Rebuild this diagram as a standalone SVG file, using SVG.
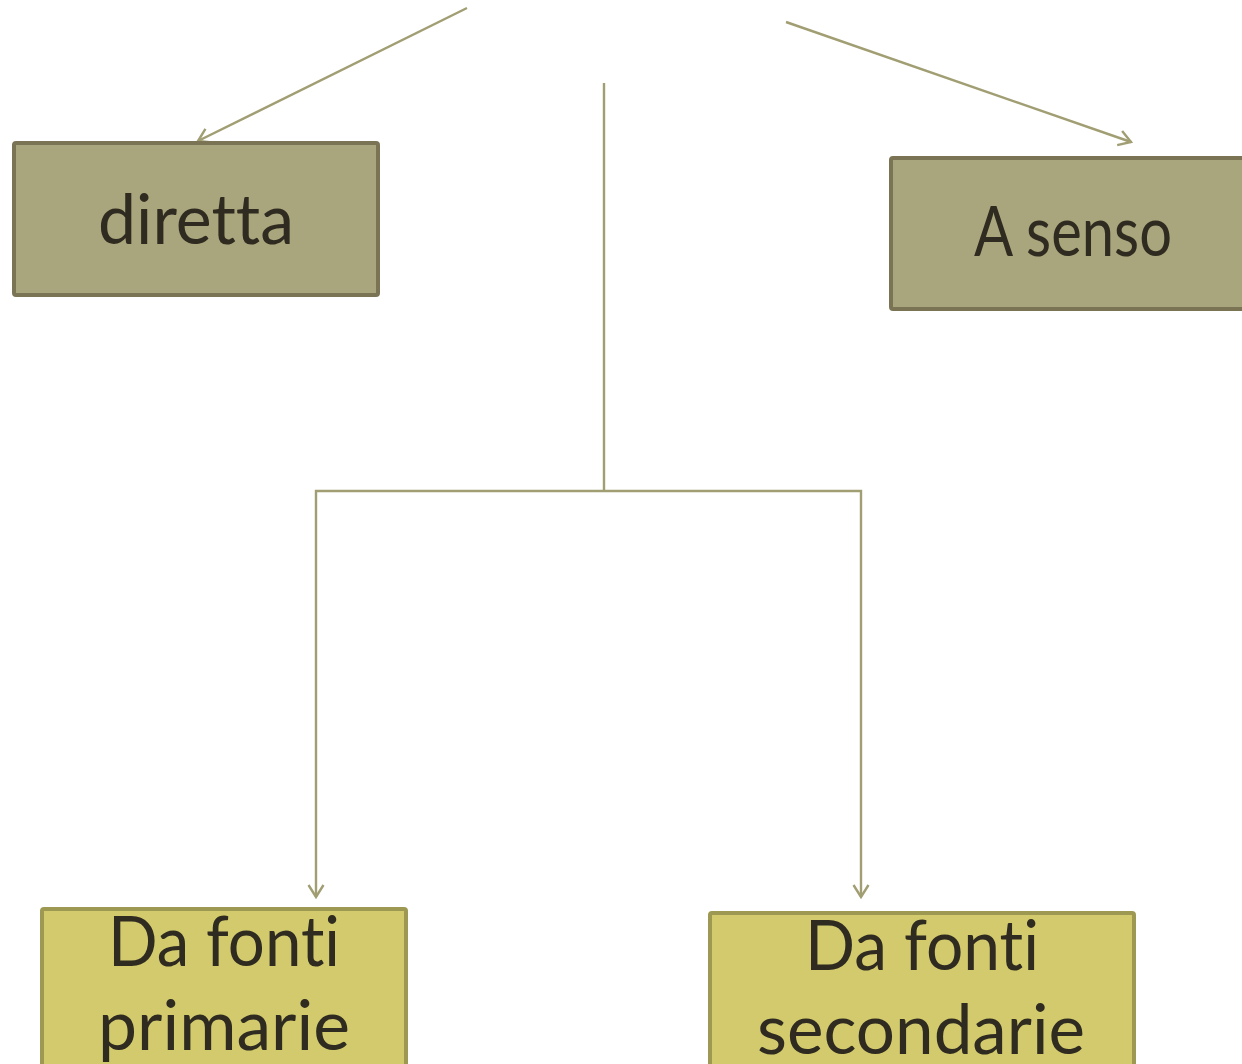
<svg xmlns="http://www.w3.org/2000/svg" width="1242" height="1064" viewBox="0 0 1242 1064">
<style>
.conn{fill:none;stroke:#a09e72;stroke-width:2.4}
.t{font-family:Lato,"Open Sans",sans-serif;fill:#2f2b20;text-anchor:middle;font-variant-ligatures:none;font-feature-settings:"liga" 0,"clig" 0}
.n1{fill:#a9a57c;stroke:#7a7455;stroke-width:4}
.n2{fill:#d2ca6c;stroke:#9d9852;stroke-width:4}
</style>
<defs>
<marker id="ah" viewBox="-14 -9 16 18" refX="0" refY="0" markerWidth="16" markerHeight="18" markerUnits="userSpaceOnUse" orient="auto">
<path d="M-12,-7.5 L0,0 L-12,7.5" fill="none" stroke="#a09e72" stroke-width="2.4"/>
</marker>
</defs>
<rect width="1242" height="1064" fill="#ffffff"/>
<g id="connectors">
<line class="conn" x1="467" y1="8" x2="198" y2="141" marker-end="url(#ah)"/>
<line class="conn" x1="786" y1="22" x2="1131" y2="142" marker-end="url(#ah)"/>
<polyline class="conn" points="604,83 604,491"/>
<polyline class="conn" points="604,491 316,491 316,897" marker-end="url(#ah)"/>
<polyline class="conn" points="604,491 861,491 861,897" marker-end="url(#ah)"/>
</g>
<g id="node-diretta">
<rect class="n1" x="14" y="143" width="364" height="152" rx="2"/>
<text class="t" x="196" y="244" font-size="70" textLength="196" lengthAdjust="spacingAndGlyphs">diretta</text>
</g>
<g id="node-asenso">
<rect class="n1" x="891" y="158" width="360" height="151" rx="2"/>
<text class="t" x="1073" y="256" font-size="70" textLength="198" lengthAdjust="spacingAndGlyphs">A senso</text>
</g>
<g id="node-primarie">
<rect class="n2" x="42" y="909" width="364" height="160" rx="2"/>
<text class="t" x="224" y="966" font-size="70" textLength="232" lengthAdjust="spacingAndGlyphs">Da fonti</text>
<text class="t" x="224" y="1050" font-size="70" textLength="252" lengthAdjust="spacingAndGlyphs">primarie</text>
</g>
<g id="node-secondarie">
<rect class="n2" x="710" y="913" width="424" height="156" rx="2"/>
<text class="t" x="922" y="970" font-size="70" textLength="234" lengthAdjust="spacingAndGlyphs">Da fonti</text>
<text class="t" x="921" y="1054" font-size="70" textLength="328" lengthAdjust="spacingAndGlyphs">secondarie</text>
</g>
</svg>
